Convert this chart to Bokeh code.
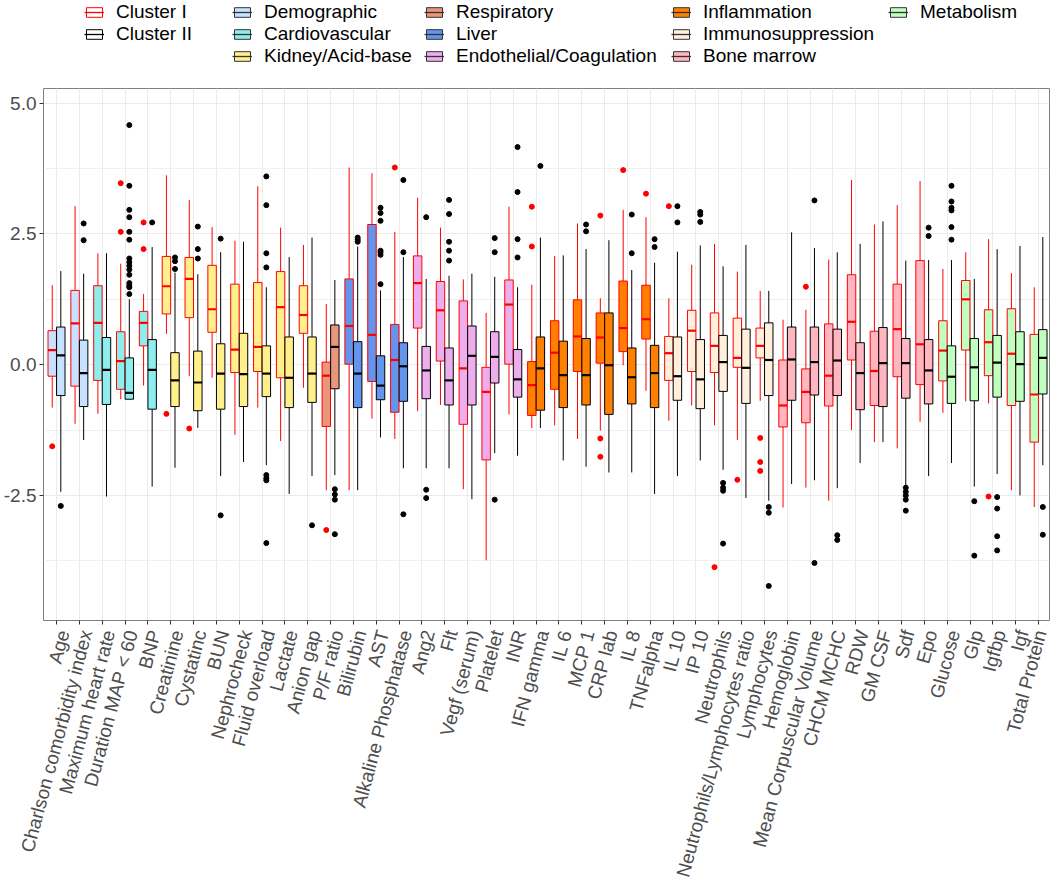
import math
from bokeh.plotting import figure
from bokeh.layouts import column
from bokeh.models import (Range1d, FixedTicker, ColumnDataSource, Legend, LegendItem,
                          PrintfTickFormatter, LinearAxis, CustomLabelingPolicy)
from bokeh.embed import file_html
from bokeh.resources import INLINE

variables = ["Age", "Charlson comorbidity index", "Maximum heart rate", "Duration MAP < 60", "BNP",
             "Creatinine", "Cystatinc", "BUN", "Nephrocheck", "Fluid overload", "Lactate", "Anion gap",
             "P/F ratio", "Bilirubin", "AST", "Alkaline Phosphatase", "Ang2", "Flt", "Vegf (serum)",
             "Platelet", "INR", "IFN gamma", "IL 6", "MCP 1", "CRP lab", "IL 8", "TNFalpha", "IL 10",
             "IP 10", "Neutrophils", "Neutrophils/Lymphocytes ratio", "Lymphocytes", "Hemoglobin",
             "Mean Corpuscular Volume", "CHCM MCHC", "RDW", "GM CSF", "Sdf", "Epo", "Glucose", "Glp",
             "Igfbp", "Igf", "Total Protein"]

group_names = ["Demographic", "Cardiovascular", "Kidney/Acid-base", "Respiratory", "Liver",
               "Endothelial/Coagulation", "Inflammation", "Immunosuppression", "Bone marrow", "Metabolism"]
group_colors = ["#C6E2FF", "#8EEEEE", "#FFF08C", "#E9967A", "#6495ED",
                "#EEAEEE", "#FF7F00", "#FFEFDB", "#FFB6C1", "#C1FFC1"]
group_sizes = [2, 3, 7, 1, 3, 5, 6, 5, 7, 5]

# Cluster I box statistics
c1_lower = [-0.82, -1.13, -0.94, -0.66, -0.40, 0.59, -0.22, -0.25, -1.34, -0.82, -1.46, -0.44,
            -2.40, -2.40, -1.03, -1.42, -0.89, -0.77, -2.38, -3.74, -0.95, -1.21, -1.16, -1.42,
            -1.26, -0.01, -0.50, -1.07, -0.78, -1.16, -1.44, -0.69, -2.73, -2.35, -2.60, -1.25,
            -1.48, -1.60, -1.09, -0.92, -0.70, -0.74, -2.40, -2.72]
c1_q1 = [-0.22, -0.41, -0.30, -0.47, 0.36, 0.97, 0.90, 0.62, -0.15, -0.13, -0.25, 0.60,
         -1.18, 0.01, -0.32, -0.91, 0.70, 0.07, -1.14, -1.82, 0.01, -0.97, -0.47, -0.13,
         0.03, 0.25, 0.49, -0.30, -0.13, -0.15, -0.05, 0.13, -1.19, -1.11, -0.79, 0.09,
         -0.78, -0.23, -0.38, -0.31, 0.28, -0.21, -0.78, -1.48]
c1_median = [0.28, 0.79, 0.80, 0.07, 0.80, 1.50, 1.64, 1.06, 0.29, 0.34, 1.10, 0.95,
             -0.21, 0.74, 0.57, 0.09, 1.56, 1.04, -0.07, -0.52, 1.15, -0.39, 0.23, 0.54,
             0.52, 0.70, 0.87, 0.22, 0.65, 0.36, 0.13, 0.36, -0.78, -0.52, -0.21, 0.82,
             -0.12, 0.68, 0.39, 0.27, 1.25, 0.43, 0.21, -0.57]
c1_q3 = [0.65, 1.42, 1.51, 0.63, 1.02, 2.07, 2.05, 1.90, 1.54, 1.57, 1.78, 1.51,
         0.05, 1.64, 2.68, 0.77, 2.08, 1.59, 1.22, -0.05, 1.62, 0.06, 0.84, 1.24,
         0.99, 1.60, 1.52, 0.54, 1.04, 0.99, 0.89, 0.70, 0.09, -0.08, 0.78, 1.72,
         0.64, 1.54, 1.99, 0.84, 1.61, 1.05, 1.07, 0.58]
c1_upper = [1.52, 3.03, 2.13, 1.93, 1.35, 3.62, 3.15, 2.63, 2.37, 3.41, 2.62, 2.29,
            1.16, 3.77, 3.66, 2.54, 3.19, 2.62, 1.63, 0.99, 3.02, 1.53, 2.08, 2.70,
            1.27, 2.96, 2.82, 1.27, 1.91, 2.31, 1.78, 1.41, 0.86, 1.05, 2.01, 3.53,
            2.68, 3.05, 3.51, 1.83, 2.15, 2.40, 1.75, 1.48]
c1_out_var = [1, 4, 4, 5, 5, 6, 7, 13, 16, 22, 22, 25, 25, 25, 26, 27, 28, 30, 31, 32, 32, 32, 34, 42]
c1_out_val = [-1.56, 3.47, 2.54, 2.72, 2.21, -0.94, -1.22, -3.16, 3.77, 3.02, 2.26, 2.85, -1.41, -1.76,
              3.72, 3.27, 3.03, -3.87, -2.20, -1.40, -1.86, -2.03, 1.49, -2.52]

# Cluster II box statistics
c2_lower = [-2.43, -1.44, -2.52, -0.66, -2.33, -1.97, -1.21, -2.13, -1.86, -1.92, -2.47, -2.13,
            -2.11, -2.40, -1.39, -1.98, -1.98, -1.98, -2.57, -1.69, -1.74, -1.21, -1.83, -1.95,
            -2.06, -2.06, -2.47, -2.13, -1.83, -2.01, -2.55, -2.60, -2.28, -2.21, -2.36, -1.88,
            -1.48, -2.31, -2.13, -1.88, -2.33, -2.09, -2.50, -1.92]
c2_q1 = [-0.59, -0.80, -0.76, -0.66, -0.85, -0.80, -0.88, -0.85, -0.80, -0.61, -0.82, -0.72,
         -0.46, -0.82, -0.67, -0.70, -0.65, -0.77, -0.77, -0.35, -0.62, -0.87, -0.82, -0.77,
         -0.95, -0.75, -0.82, -0.68, -0.84, -0.51, -0.74, -0.59, -0.68, -0.58, -0.59, -0.86,
         -0.80, -0.64, -0.75, -0.74, -0.69, -0.62, -0.70, -0.56]
c2_median = [0.18, -0.16, -0.10, -0.54, -0.10, -0.30, -0.34, -0.17, -0.18, -0.17, -0.25, -0.17,
             0.34, -0.17, -0.40, -0.03, -0.11, -0.30, 0.17, 0.15, -0.28, -0.07, -0.20, -0.20,
             -0.01, -0.24, -0.16, -0.22, -0.28, 0.05, -0.06, 0.09, 0.10, 0.05, 0.08, -0.16,
             0.03, 0.03, -0.11, -0.23, -0.05, 0.04, 0.01, 0.13]
c2_q3 = [0.72, 0.47, 0.52, 0.13, 0.48, 0.23, 0.26, 0.40, 0.60, 0.36, 0.53, 0.53,
         0.76, 0.44, 0.17, 0.42, 0.35, 0.32, 0.74, 0.63, 0.29, 0.53, 0.45, 0.50,
         0.99, 0.32, 0.37, 0.53, 0.48, 0.56, 0.68, 0.80, 0.72, 0.72, 0.68, 0.42,
         0.71, 0.50, 0.48, 0.36, 0.50, 0.56, 0.63, 0.67]
c2_upper = [1.79, 1.74, 2.13, 1.25, 2.25, 1.76, 1.73, 2.15, 2.35, 1.48, 2.06, 2.43,
            1.62, 2.26, 1.42, 2.06, 1.64, 1.70, 1.74, 1.68, 1.48, 2.43, 2.09, 2.21,
            2.38, 1.81, 1.95, 2.16, 2.28, 1.88, 2.29, 1.41, 2.53, 2.23, 2.15, 2.31,
            2.74, 1.99, 2.00, 2.00, 1.64, 2.21, 2.27, 2.44]
c2_out_var = [1, 2, 2,
              4, 4, 4, 4, 4, 4, 4, 4, 4, 4, 4, 4, 4, 4, 4,
              5, 6, 6, 6, 7, 7, 7, 8, 8,
              10, 10, 10, 10, 10, 10, 10, 10,
              12, 13, 13, 13, 13, 14, 14, 14,
              15, 15, 15, 15, 15, 15, 15,
              16, 16, 16, 17, 17, 17, 18, 18, 18, 18, 18,
              20, 20, 20, 21, 21, 21, 21, 22, 24, 24, 26, 26, 27, 27, 28, 28, 29, 29, 29,
              30, 30, 30, 30, 32, 32, 32, 34, 34, 35, 35,
              38, 38, 38, 38, 38, 39, 39, 40, 40, 40, 40, 40, 40, 41, 41, 42, 42, 42, 42, 44, 44]
c2_out_val = [-2.70, 2.70, 2.38,
              4.58, 3.42, 2.96, 2.82, 2.54, 2.39, 2.03, 1.96, 1.89, 1.82, 1.72, 1.56, 1.51, 1.48, 1.35,
              2.72, 2.05, 1.98, 1.83, 2.64, 2.21, 2.03, 2.41, -2.88,
              3.60, 3.05, 2.13, 1.86, -2.11, -2.17, -2.21, -3.41,
              -3.07, -2.38, -2.48, -2.58, -3.24, 2.43, 2.39, 2.35,
              3.00, 2.90, 2.75, 2.18, 2.15, 2.10, 1.54,
              3.53, 2.15, -2.86, 2.82, -2.39, -2.55, 3.15, 2.88, 2.35, 2.18, 1.99,
              2.42, 2.15, -2.58, 4.16, 3.30, 2.40, 2.05, 3.80, 2.68, 2.55, 2.87, 2.13, 2.40, 2.25,
              3.03, 2.72, 2.92, 2.87, 2.73,
              -2.26, -2.35, -2.41, -3.42, -2.72, -2.83, -4.23, 3.14, -3.79, -3.26, -3.35,
              -2.35, -2.43, -2.50, -2.58, -2.79, 2.62, 2.46, 3.42, 3.12, 3.00, 2.95, 2.63, 2.39,
              -2.61, -3.65, -2.53, -2.75, -3.28, -3.55, -2.72, -3.25]

y_ticks = [-2.5, 0.0, 2.5, 5.0]
y_minor = [-3.75, -1.25, 1.25, 3.75]

FONT = "Liberation Sans"
RED = "#FF0000"
BLACK = "#000000"
TXT = "#4D4D4D"

fill_per_var = []
for gi, n in enumerate(group_sizes):
    fill_per_var += [group_colors[gi]] * n

xpos = list(range(1, len(variables) + 1))

# ---------------- main plot ----------------
p = figure(width=1050, height=805, output_backend="svg", toolbar_location=None,
           x_range=Range1d(0.43, 44.48), y_range=Range1d(-4.89, 5.28),
           min_border_left=42, min_border_right=1, min_border_top=8, min_border_bottom=263)
p.background_fill_color = "white"
p.border_fill_color = "white"
p.outline_line_color = "#7f7f7f"
p.outline_line_width = 1

# tick-mark-only axis
ax_ticks = p.below[0]
ax_ticks.ticker = FixedTicker(ticks=xpos)
ax_ticks.major_label_text_font_size = "0px"
ax_ticks.major_label_standoff = 0
ax_ticks.major_label_policy = CustomLabelingPolicy(code="return []")

yax = p.left[0]
yax.ticker = FixedTicker(ticks=y_ticks, minor_ticks=y_minor)
yax.formatter = PrintfTickFormatter(format="%.1f")
yax.major_label_standoff = 3

for ax in (ax_ticks, yax):
    ax.axis_line_color = None
    ax.major_tick_line_color = "#333333"
    ax.major_tick_out = 4
    ax.major_tick_in = 0
    ax.minor_tick_line_color = None
    ax.major_label_text_font = FONT
    ax.major_label_text_color = TXT
yax.major_label_text_font_size = "19px"

# label-only axis, shifted so the rotated text's top-right corner sits at the tick
label_pos = [x + 0.3 for x in xpos]
ax_labels = LinearAxis(ticker=FixedTicker(ticks=label_pos),
                       major_label_overrides={lp: name for lp, name in zip(label_pos, variables)},
                       major_label_orientation=math.radians(75),
                       major_label_standoff=6,
                       major_label_text_font=FONT, major_label_text_font_size="19px",
                       major_label_text_color=TXT,
                       axis_line_color=None, major_tick_line_color=None, minor_tick_line_color=None,
                       major_tick_out=0, major_tick_in=0)
p.add_layout(ax_labels, "below")

p.xgrid.grid_line_color = "#EBEBEB"
p.xgrid.grid_line_width = 1
p.ygrid.grid_line_color = "#EBEBEB"
p.ygrid.grid_line_width = 1
p.ygrid.minor_grid_line_color = "#F0F0F0"
p.ygrid.minor_grid_line_width = 1

BW = 0.37
OFF = 0.1875

clusters = [
    (-OFF, RED, c1_lower, c1_q1, c1_median, c1_q3, c1_upper, c1_out_var, c1_out_val),
    (OFF, BLACK, c2_lower, c2_q1, c2_median, c2_q3, c2_upper, c2_out_var, c2_out_val),
]
for off, lc, lo, q1, med, q3, up, ov, oy in clusters:
    xs = [x + off for x in xpos]
    src = ColumnDataSource(dict(x=xs, lower=lo, q1=q1, med=med, q3=q3, upper=up,
                                left=[x - BW / 2 for x in xs], right=[x + BW / 2 for x in xs],
                                fill=fill_per_var))
    p.segment(x0="x", y0="lower", x1="x", y1="q1", line_color=lc, line_width=1, source=src)
    p.segment(x0="x", y0="q3", x1="x", y1="upper", line_color=lc, line_width=1, source=src)
    p.vbar(x="x", width=BW, bottom="q1", top="q3", fill_color="fill", line_color=lc,
           line_width=1, source=src)
    p.segment(x0="left", y0="med", x1="right", y1="med", line_color=lc, line_width=2.2, source=src)
    p.scatter(x=[v + off for v in ov], y=oy, size=5, fill_color=lc, line_color=lc)

# ---------------- legend strip ----------------
lf = figure(width=1050, height=80, output_backend="svg", toolbar_location=None,
            x_range=Range1d(0, 1), y_range=Range1d(0, 1), x_axis_type=None, y_axis_type=None,
            min_border=0, min_border_left=0, min_border_right=0, min_border_top=0, min_border_bottom=0)
lf.outline_line_color = None
lf.background_fill_color = "white"
lf.border_fill_color = "white"


def key(fill, line):
    # one point far outside the strip's ranges: only its legend swatch is visible
    r1 = lf.rect(x=[-10], y=[-10], width=0.1, height=0.1, fill_color=fill, line_color=line, line_width=1)
    r2 = lf.segment(x0=[-10], y0=[-10], x1=[-9], y1=[-10], line_color=line, line_width=1.3)
    return [r1, r2]


def add_legend(labels, fills, lines, x, y):
    items = [LegendItem(label=lab, renderers=key(f, l)) for lab, f, l in zip(labels, fills, lines)]
    lg = Legend(items=items, location=(x, y), orientation="vertical",
                glyph_width=20, glyph_height=12, label_height=22, label_standoff=12,
                spacing=0, padding=0, margin=0, border_line_color=None, background_fill_alpha=0,
                label_text_font=FONT, label_text_font_size="19px", label_text_color="black")
    lf.add_layout(lg, "center")


add_legend(["Cluster I", "Cluster II"], ["white", "white"], [RED, BLACK], 41, 35)
cols = [(0, 3, 189, 13), (3, 6, 381, 13), (6, 9, 628, 13), (9, 10, 845, 57)]
for a, b, x, y in cols:
    add_legend(group_names[a:b], group_colors[a:b], ["#333333"] * (b - a), x, y)

layout = column(lf, p, spacing=0)
open("out.html", "w").write(file_html(layout, INLINE))
